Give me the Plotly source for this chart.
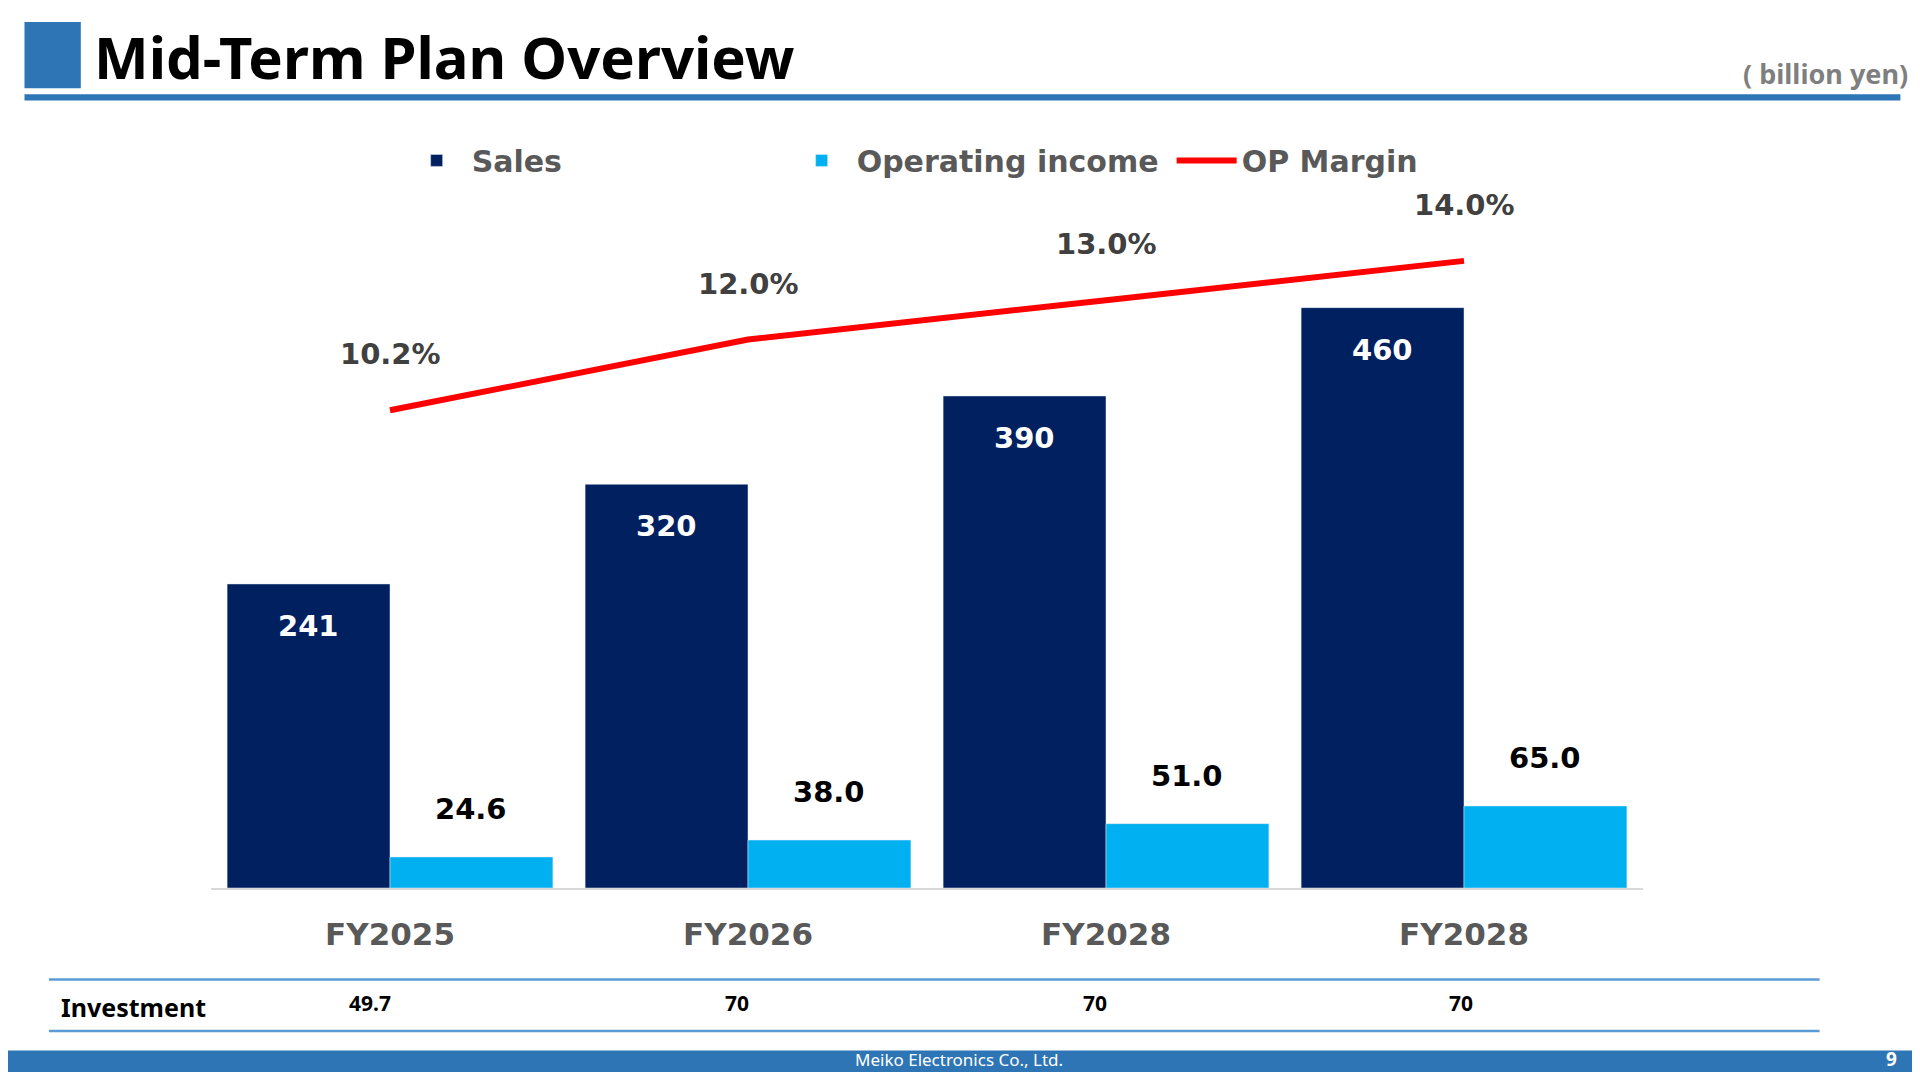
import plotly.graph_objects as go

categories = ["FY2025", "FY2026", "FY2028", "FY2028"]
sales = [241, 320, 390, 460]
op_income = [24.6, 38.0, 51.0, 65.0]
op_margin = [10.2, 12.0, 13.0, 14.0]
investment = ["49.7", "70", "70", "70"]

NAVY = "#002060"; CYAN = "#00B0F0"; RED = "#FF0000"; HEAD = "#2E75B6"
S = 1920 / 1568
OFF = 8
FW, FH = 1904, 1064
L, R, T, B = 211 - OFF, 1643 - OFF, 196 - OFF, 888 - OFF
W, H = R - L, B - T

def px(x, y):
    return (x * S - OFF - L) / W, (B - (y * S - OFF)) / H

xs = list(range(len(categories)))
fig = go.Figure()
fig.add_bar(x=xs, y=sales, name="<b>Sales</b>", marker_color=NAVY)
fig.add_bar(x=xs, y=op_income, name="<b>Operating income</b>", marker_color=CYAN)
fig.add_scatter(x=xs, y=op_margin, name="<b>OP Margin</b>", yaxis="y2", mode="lines",
                line=dict(color=RED, width=6))

bw = (1 - 0.09) / 2
ann = []
lab = dict(family="DejaVu Sans", size=29)
for i in xs:
    ann.append(dict(x=i - bw / 2, y=sales[i], text=f"<b>{sales[i]}</b>", showarrow=False,
                    yshift=-42, font=dict(lab, color="white")))
    ann.append(dict(x=i + bw / 2, y=op_income[i], text=f"<b>{op_income[i]:.1f}</b>", showarrow=False,
                    yshift=48, font=dict(lab, color="black")))
    ann.append(dict(x=i, y=op_margin[i], yref="y2", text=f"<b>{op_margin[i]:.1f}%</b>", showarrow=False,
                    yshift=56, font=dict(lab, color="#404040")))

def pa(x, y, text, size, color, xanchor="left", bold=True, family="DejaVu Sans"):
    xp, yp = px(x, y)
    ann.append(dict(xref="paper", yref="paper", x=xp, y=yp, text=f"<b>{text}</b>" if bold else text,
                    showarrow=False, xanchor=xanchor, yanchor="middle",
                    font=dict(family=family, size=size, color=color)))

pa(75, 46, "Mid-Term Plan Overview", 58, "black", family="Noto Sans")
pa(1560, 60, "( billion yen)", 27, "#7F7F7F", xanchor="right", family="Noto Sans")
pa(48, 822, "Investment", 25, "black", family="Noto Sans")
for x, v in zip([302, 602, 894, 1193], investment):
    pa(x, 819, v, 21, "black", xanchor="center", family="Noto Sans")
pa(783, 865, "Meiko Electronics Co., Ltd.", 17, "white", xanchor="center", bold=False, family="Noto Sans")
pa(1545, 865, "9", 19, "white", xanchor="center", family="Noto Sans")

shapes = []
def rect(x0, y0, x1, y1, color):
    a, b = px(x0, y1); c, d = px(x1, y0)
    shapes.append(dict(type="rect", xref="paper", yref="paper", x0=a, y0=b, x1=c, y1=d,
                       fillcolor=color, line_width=0, layer="above"))
rect(20, 18, 66, 72, HEAD)
rect(20, 77, 1552, 82, HEAD)
rect(0, 858, 1568, 890, HEAD)
rect(40, 799, 1486, 801, "#5B9BD5")
rect(40, 841, 1486, 843, "#5B9BD5")

lx, ly = px(328, 131)
fig.update_layout(
    width=FW, height=FH, margin=dict(l=L, r=FW - R, t=T, b=FH - B),
    plot_bgcolor="white", paper_bgcolor="white", barmode="group", bargap=0.09, bargroupgap=0,
    xaxis=dict(range=[-0.5, 3.5], tickvals=xs, ticktext=[f"<b>{c}</b>" for c in categories],
               tickfont=dict(family="DejaVu Sans", size=31, color="#595959"), showline=True,
               linecolor="#D9D9D9", linewidth=2, ticks="", showgrid=False, zeroline=False,
               ticklabelstandoff=18),
    yaxis=dict(range=[0, 548.5], visible=False, showgrid=False),
    yaxis2=dict(range=[-1.95, 15.65], overlaying="y", visible=False, showgrid=False),
    legend=dict(orientation="h", x=lx, y=ly, xanchor="left", yanchor="middle", entrywidth=310,
                font=dict(family="DejaVu Sans", size=30, color="#595959"), itemwidth=60),
    annotations=ann, shapes=shapes, showlegend=True,
)
fig.write_html("out.html")
